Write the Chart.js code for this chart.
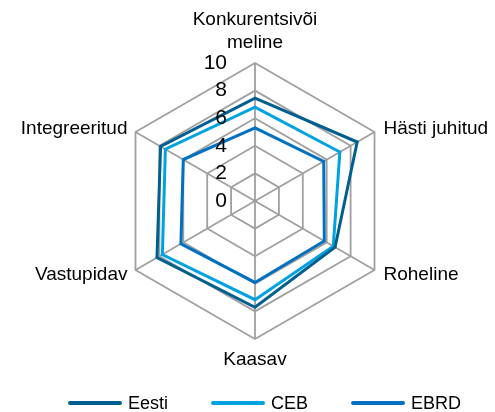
<!DOCTYPE html>
<html>
<head>
<meta charset="utf-8">
<script src="https://cdn.jsdelivr.net/npm/chart.js@4"></script>
<style>
  html, body { margin: 0; padding: 0; background: #ffffff; }
  #wrap { width: 495px; height: 412px; }
</style>
</head>
<body>
<div id="wrap"><canvas id="c" width="495" height="412"></canvas></div>
<script>
// ---- data ----
const categories = [['Konkurentsivõi', 'meline'], 'Hästi juhitud', 'Roheline', 'Kaasav', 'Vastupidav', 'Integreeritud'];
const seriesNames = ['Eesti', 'CEB', 'EBRD'];
const eesti = [7.45, 8.55, 6.7, 7.7, 8.2, 7.9];
const ceb   = [6.8, 7.1, 6.55, 7.15, 7.75, 7.5];
const ebrd  = [5.3, 5.75, 5.8, 5.9, 6.2, 6.0];
const tickValues = [0, 2, 4, 6, 8, 10];

const colors = ['#005F8E', '#00A3E0', '#0070C0'];
const GRID = '#A0A0A0';
const FAMILY = '"Liberation Sans", Arial, sans-serif';
const LABEL_FONT = '19px ' + FAMILY;
const TICK_FONT = '21px ' + FAMILY;
const LEGEND_FONT = '18px ' + FAMILY;

const labelPlugin = {
  id: 'customLabels',
  afterDraw(chart) {
    const scale = chart.scales.r;
    const ctx = chart.ctx;
    ctx.save();
    ctx.fillStyle = '#000000';
    // tick labels, right-aligned left of the vertical axis
    ctx.font = TICK_FONT;
    ctx.textAlign = 'right';
    ctx.textBaseline = 'middle';
    tickValues.forEach(v => {
      const d = scale.getDistanceFromCenterForValue(v);
      ctx.fillText(String(v), scale.xCenter - 28, scale.yCenter - d);
    });
    // point labels
    ctx.font = LABEL_FONT;
    categories.forEach((lab, i) => {
      const p = scale.getPointPosition(i, scale.drawingArea);
      const dx = p.x - scale.xCenter;
      const dy = p.y - scale.yCenter;
      const lines = Array.isArray(lab) ? lab : [lab];
      if (Math.abs(dx) < 1) {
        ctx.textAlign = 'center';
        if (dy < 0) {
          const n = lines.length;
          lines.forEach((ln, k) => ctx.fillText(ln, p.x, p.y - 20 - (n - 1 - k) * 23));
        } else {
          lines.forEach((ln, k) => ctx.fillText(ln, p.x, p.y + 21 + k * 23));
        }
      } else {
        const x = dx > 0 ? p.x + 9 : p.x - 8;
        ctx.textAlign = dx > 0 ? 'left' : 'right';
        const y = dy < 0 ? p.y - 3 : p.y + 5;
        lines.forEach((ln, k) => ctx.fillText(ln, x, y + k * 23));
      }
    });
    // legend
    ctx.font = LEGEND_FONT;
    ctx.textAlign = 'left';
    let x = 68;
    const ly = 403;
    chart.data.datasets.forEach(ds => {
      ctx.strokeStyle = ds.borderColor;
      ctx.lineWidth = 4;
      ctx.lineCap = 'round';
      ctx.beginPath();
      ctx.moveTo(x + 2, ly);
      ctx.lineTo(x + 52, ly);
      ctx.stroke();
      ctx.fillStyle = '#000000';
      ctx.fillText(ds.label, x + 60, ly + 1);
      x += 60 + ctx.measureText(ds.label).width + 43;
    });
    ctx.restore();
  }
};

const dataSets = [eesti, ceb, ebrd].map((vals, i) => ({
  label: seriesNames[i],
  data: vals,
  borderColor: colors[i],
  backgroundColor: colors[i],
  borderWidth: 3,
  pointRadius: 0,
  pointHoverRadius: 0,
  fill: false,
  tension: 0
}));

new Chart(document.getElementById('c'), {
  type: 'radar',
  data: { labels: categories, datasets: dataSets },
  plugins: [labelPlugin],
  options: {
    responsive: false,
    animation: false,
    layout: { padding: { top: 63, left: 28, right: 13, bottom: 73 } },
    scales: {
      r: {
        min: 0,
        max: 10,
        ticks: { stepSize: 2, display: false },
        pointLabels: { display: false },
        grid: { color: GRID, lineWidth: 1.8 },
        angleLines: { color: GRID, lineWidth: 1.8 }
      }
    },
    plugins: {
      tooltip: { enabled: false },
      legend: { display: false }
    }
  }
});
</script>
</body>
</html>
